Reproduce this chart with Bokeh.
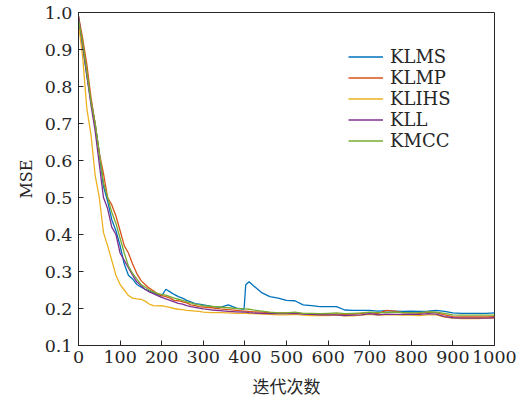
from bokeh.plotting import figure
from bokeh.models import FixedTicker, PrintfTickFormatter, Range1d, Legend, LegendItem
from bokeh.embed import file_html
from bokeh.resources import INLINE

iters = [0, 10, 20, 30, 40, 50, 60, 70, 80, 90, 100, 110, 120, 130, 140, 150, 160, 170, 180, 190,
         200, 210, 220, 230, 240, 250, 260, 270, 280, 290, 300, 320, 340, 360, 380, 398, 402, 410,
         420, 440, 460, 480, 500, 520, 540, 560, 580, 600, 620, 640, 660, 680, 700, 720, 740, 760,
         780, 800, 820, 840, 860, 880, 900, 920, 940, 960, 980, 1000]

klms = [0.98, 0.91, 0.83, 0.76, 0.70, 0.62, 0.53, 0.49, 0.44, 0.41, 0.37, 0.32, 0.29, 0.28, 0.265,
        0.258, 0.252, 0.248, 0.243, 0.238, 0.234, 0.252, 0.245, 0.238, 0.232, 0.228, 0.222, 0.218,
        0.213, 0.212, 0.210, 0.206, 0.203, 0.210, 0.201, 0.198, 0.264, 0.272, 0.262, 0.243, 0.232,
        0.228, 0.222, 0.221, 0.210, 0.208, 0.205, 0.205, 0.205, 0.196, 0.195, 0.195, 0.195, 0.193,
        0.194, 0.193, 0.192, 0.193, 0.192, 0.193, 0.195, 0.192, 0.188, 0.187, 0.187, 0.187, 0.187,
        0.188]

klmp = [0.99, 0.93, 0.86, 0.77, 0.70, 0.62, 0.565, 0.50, 0.48, 0.45, 0.41, 0.37, 0.35, 0.32, 0.295,
        0.276, 0.265, 0.255, 0.248, 0.24, 0.235, 0.232, 0.228, 0.222, 0.221, 0.218, 0.215, 0.210,
        0.208, 0.205, 0.204, 0.202, 0.199, 0.197, 0.195, 0.193, 0.193, 0.192, 0.191, 0.19, 0.189,
        0.188, 0.188, 0.189, 0.186, 0.185, 0.184, 0.185, 0.185, 0.184, 0.185, 0.187, 0.189, 0.186,
        0.195, 0.193, 0.188, 0.189, 0.187, 0.19, 0.189, 0.183, 0.178, 0.177, 0.177, 0.177, 0.177,
        0.178]

klihs = [0.97, 0.88, 0.74, 0.67, 0.56, 0.50, 0.405, 0.37, 0.33, 0.29, 0.265, 0.25, 0.235, 0.228,
         0.226, 0.225, 0.22, 0.212, 0.208, 0.207, 0.208, 0.205, 0.203, 0.2, 0.198, 0.197, 0.195,
         0.194, 0.193, 0.192, 0.19, 0.189, 0.189, 0.188, 0.187, 0.187, 0.187, 0.186, 0.186, 0.185,
         0.184, 0.183, 0.183, 0.184, 0.182, 0.181, 0.181, 0.181, 0.182, 0.180, 0.180, 0.182, 0.184,
         0.182, 0.183, 0.183, 0.182, 0.182, 0.181, 0.183, 0.183, 0.177, 0.174, 0.173, 0.173, 0.173,
         0.174, 0.175]

kll = [0.99, 0.91, 0.83, 0.75, 0.68, 0.59, 0.50, 0.47, 0.42, 0.40, 0.35, 0.33, 0.31, 0.29, 0.272,
       0.262, 0.252, 0.245, 0.24, 0.235, 0.23, 0.226, 0.222, 0.218, 0.214, 0.212, 0.208, 0.205,
       0.203, 0.201, 0.199, 0.196, 0.194, 0.192, 0.191, 0.19, 0.19, 0.189, 0.188, 0.187, 0.186,
       0.186, 0.186, 0.187, 0.185, 0.184, 0.183, 0.183, 0.183, 0.181, 0.182, 0.183, 0.186, 0.183,
       0.185, 0.184, 0.184, 0.185, 0.184, 0.186, 0.185, 0.178, 0.175, 0.174, 0.174, 0.174, 0.174,
       0.175]

kmcc = [0.98, 0.92, 0.84, 0.76, 0.70, 0.62, 0.54, 0.50, 0.46, 0.43, 0.39, 0.35, 0.315, 0.295, 0.28,
        0.265, 0.258, 0.25, 0.245, 0.24, 0.238, 0.236, 0.232, 0.228, 0.225, 0.222, 0.218, 0.215,
        0.212, 0.21, 0.208, 0.206, 0.204, 0.202, 0.2, 0.199, 0.199, 0.198, 0.196, 0.193, 0.19,
        0.188, 0.188, 0.19, 0.187, 0.187, 0.186, 0.187, 0.188, 0.186, 0.187, 0.188, 0.19, 0.189,
        0.189, 0.19, 0.189, 0.189, 0.189, 0.191, 0.19, 0.187, 0.183, 0.182, 0.182, 0.182, 0.182,
        0.182]

names = ["KLMS", "KLMP", "KLIHS", "KLL", "KMCC"]
series = [klms, klmp, klihs, kll, kmcc]
colors = ["#0072BD", "#D95319", "#EDB120", "#7E2F8E", "#77AC30"]

x_ticks = [0, 100, 200, 300, 400, 500, 600, 700, 800, 900, 1000]
y_ticks = [0.1, 0.2, 0.3, 0.4, 0.5, 0.6, 0.7, 0.8, 0.9, 1.0]

SERIF = "DejaVu Serif"

p = figure(width=524, height=405, output_backend="svg", toolbar_location=None,
           x_range=Range1d(0, 1000), y_range=Range1d(0.1, 1.0),
           min_border_left=78, min_border_right=30, min_border_top=12, min_border_bottom=60)
p.xgrid.visible = False
p.ygrid.visible = False
p.outline_line_color = "#262626"
p.outline_line_width = 1
p.background_fill_color = "white"
p.border_fill_color = "white"

renderers = []
for nm, ys, c in zip(names, series, colors):
    r = p.line(iters, ys, line_color=c, line_width=1.3)
    renderers.append((nm, r))

for ax in (p.xaxis[0], p.yaxis[0]):
    ax.major_tick_in = 5
    ax.major_tick_out = 0
    ax.minor_tick_in = 0
    ax.minor_tick_out = 0
    ax.axis_line_color = "#262626"
    ax.major_tick_line_color = "#262626"
    ax.major_label_text_font = SERIF
    ax.major_label_text_font_size = "17.5px"
    ax.major_label_text_color = "#262626"
    ax.axis_label_text_font_style = "normal"
    ax.axis_label_text_color = "#262626"

p.xaxis[0].ticker = FixedTicker(ticks=x_ticks)
p.yaxis[0].ticker = FixedTicker(ticks=y_ticks)
p.yaxis[0].formatter = PrintfTickFormatter(format="%.1f")
p.xaxis[0].major_label_standoff = 5
p.yaxis[0].major_label_standoff = 6

p.xaxis[0].axis_label = "迭代次数"
p.xaxis[0].axis_label_text_font = "Noto Sans CJK SC"
p.xaxis[0].axis_label_text_font_size = "17px"
p.xaxis[0].axis_label_standoff = 7

p.yaxis[0].axis_label = "MSE"
p.yaxis[0].axis_label_text_font = SERIF
p.yaxis[0].axis_label_text_font_size = "16px"
p.yaxis[0].axis_label_standoff = 6

legend = Legend(items=[LegendItem(label=nm, renderers=[r]) for nm, r in renderers],
                location=(270, 194))
legend.border_line_color = None
legend.background_fill_alpha = 0
legend.label_text_font = SERIF
legend.label_text_font_size = "18px"
legend.label_text_color = "#262626"
legend.glyph_width = 35
legend.glyph_height = 19
legend.label_height = 19
legend.spacing = 0
legend.padding = 5
legend.margin = 0
legend.label_standoff = 7
p.add_layout(legend, "center")

open("out.html", "w").write(file_html(p, INLINE))
